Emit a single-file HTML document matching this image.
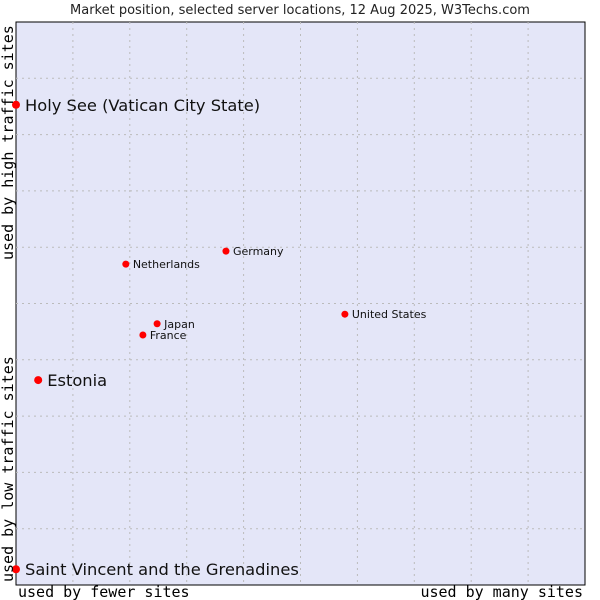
<!DOCTYPE html>
<html><head><meta charset="utf-8"><style>
body{margin:0;background:#fff;}
svg{display:block;font-family:"DejaVu Sans","Liberation Sans",sans-serif;}
.mono{font-family:"DejaVu Sans Mono","Liberation Mono",monospace;font-size:15px;}
</style></head><body>
<svg id="chart" width="600" height="600">
<text x="300" y="14" text-anchor="middle" font-size="13" fill="#222">Market position, selected server locations, 12 Aug 2025, W3Techs.com</text>
<rect x="16" y="22" width="569" height="563" fill="#e4e6f8" stroke="#000" stroke-width="1"/>
<g id="grid"></g>
<g id="points"></g>
<text class="mono" x="18" y="597">used by fewer sites</text>
<text class="mono" x="583" y="597" text-anchor="end">used by many sites</text>
<text class="mono" transform="translate(13,260) rotate(-90)">used by high traffic sites</text>
<text class="mono" transform="translate(13,582) rotate(-90)">used by low traffic sites</text>
</svg>
<script>
const names=["Holy See (Vatican City State)","Saint Vincent and the Grenadines","Estonia","Netherlands","Germany","Japan","France","United States"];
const xVals=[0,0,3.9,19.3,36.9,24.8,22.3,57.8];
const yVals=[85.3,2.8,36.4,57.0,59.3,46.4,44.4,48.1];
const big=[true,true,true,false,false,false,false,false];
const L=16,T=22,W=569,H=563;
const sx=v=>L+v/100*W, sy=v=>T+H-v/100*H;
const ns="http://www.w3.org/2000/svg";
const grid=document.getElementById('grid');
for(let i=1;i<10;i++){
  const v=document.createElementNS(ns,'line');
  
  
  v.setAttribute('x1',sx(i*10));v.setAttribute('x2',sx(i*10));v.setAttribute('y1',T);v.setAttribute('y2',T+H);
  v.setAttribute('stroke','#bbb');v.setAttribute('stroke-dasharray','2,4');grid.appendChild(v);
  const h=document.createElementNS(ns,'line');
  
  
  h.setAttribute('y1',sy(i*10));h.setAttribute('y2',sy(i*10));h.setAttribute('x1',L);h.setAttribute('x2',L+W);
  h.setAttribute('stroke','#bbb');h.setAttribute('stroke-dasharray','2,4');grid.appendChild(h);
}
const pts=document.getElementById('points');
names.forEach((n,i)=>{
  const x=sx(xVals[i]),y=sy(yVals[i]);
  const c=document.createElementNS(ns,'circle');
  
  
  c.setAttribute('cx',x);c.setAttribute('cy',y);c.setAttribute('r',big[i]?4:3.5);c.setAttribute('fill','#f00');
  pts.appendChild(c);
  const t=document.createElementNS(ns,'text');
  
  
  t.setAttribute('x',x+(big[i]?9:7));t.setAttribute('y',y+(big[i]?6:4));
  t.setAttribute('font-size',big[i]?16.3:11);t.setAttribute('fill','#111');
  t.textContent=n;pts.appendChild(t);
});
</script>
</body></html>
